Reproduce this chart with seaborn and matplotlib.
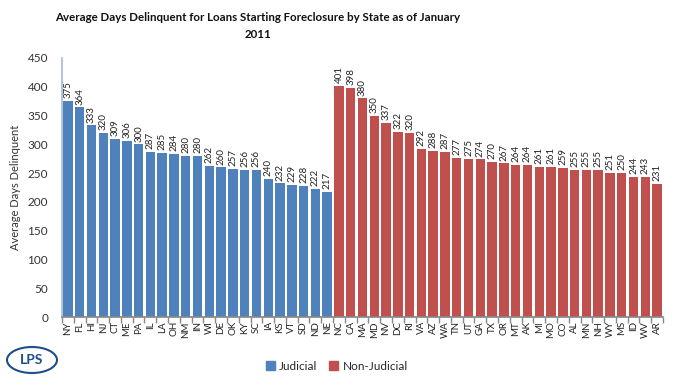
import matplotlib
matplotlib.use("Agg")
import matplotlib.pyplot as plt
import seaborn as sns
import pandas as pd
import numpy as np
from matplotlib.patches import Ellipse, Patch

judicial_states = ["NY", "FL", "HI", "NJ", "CT", "ME", "PA", "IL", "LA", "OH", "NM", "IN",
                   "WI", "DE", "OK", "KY", "SC", "IA", "KS", "VT", "SD", "ND", "NE"]
judicial_days = [375, 364, 333, 320, 309, 306, 300, 287, 285, 284, 280, 280,
                 262, 260, 257, 256, 256, 240, 232, 229, 228, 222, 217]
nonjud_states = ["NC", "CA", "MA", "MD", "NV", "DC", "RI", "VA", "AZ", "WA", "TN", "UT",
                 "GA", "TX", "OR", "MT", "AK", "MI", "MO", "CO", "AL", "MN", "NH", "WY",
                 "MS", "ID", "WV", "AR"]
nonjud_days = [401, 398, 380, 350, 337, 322, 320, 292, 288, 287, 277, 275,
               274, 270, 267, 264, 264, 261, 261, 259, 255, 255, 255, 251,
               250, 244, 243, 231]

title = "Average Days Delinquent for Loans Starting Foreclosure by State as of January\n2011"
ylabel = "Average Days Delinquent"
yticks = [0, 50, 100, 150, 200, 250, 300, 350, 400, 450]

df = pd.DataFrame({
    "State": judicial_states + nonjud_states,
    "Days": judicial_days + nonjud_days,
    "Type": ["Judicial"] * len(judicial_states) + ["Non-Judicial"] * len(nonjud_states),
})

sns.set_theme(style="white")
plt.rcParams["font.family"] = ["Lato", "DejaVu Sans"]

blue = "#4F81BD"
red = "#C0504D"
palette = {"Judicial": blue, "Non-Judicial": red}

fig = plt.figure(figsize=(6.78, 3.91), dpi=100)
ax = fig.add_axes([62 / 678, 1 - 317 / 391, (663 - 62) / 678, (317 - 58) / 391])

sns.barplot(data=df, x="State", y="Days", hue="Type", palette=palette,
            dodge=False, width=0.8, legend=False, ax=ax, saturation=1,
            order=df["State"].tolist(), edgecolor="none")

for cont in ax.containers:
    ax.bar_label(cont, rotation=90, padding=2, fontsize=7, color="#222222")

ax.set_ylim(0, 450)
ax.set_yticks(yticks)
ax.set_xlim(-0.5, len(df) - 0.5)
ax.tick_params(axis="y", labelsize=8.5, length=0, pad=10, colors="#333333")
ax.tick_params(axis="x", labelsize=7, rotation=90, length=0, pad=3, colors="#222222")
ax.set_xticks(np.arange(-0.5, len(df), 1), minor=True)
ax.tick_params(axis="x", which="minor", length=4, color="#888888", bottom=True)
ax.set_xlabel("")
ax.set_ylabel(ylabel, fontsize=8, color="#333333", labelpad=5)
for s in ["top", "right"]:
    ax.spines[s].set_visible(False)
ax.spines["left"].set_color("#A6BDDB")
ax.spines["bottom"].set_color("#888888")

fig.text(258 / 678, 1 - 26 / 391, title, ha="center", va="center", fontsize=8.3,
         fontweight="bold", color="#111111", linespacing=1.75)

handles = [Patch(color=blue, label="Judicial"), Patch(color=red, label="Non-Judicial")]
fig.legend(handles=handles, loc="center", bbox_to_anchor=(337 / 678, 1 - 366 / 391),
           ncol=2, frameon=False, fontsize=8.5, handlelength=0.7, handleheight=0.7,
           columnspacing=1.0, handletextpad=0.4)

# LPS logo
ell = Ellipse((32 / 678, 1 - 360 / 391), 50 / 678, 26 / 391, transform=fig.transFigure,
              fill=False, edgecolor="#1F4E8C", linewidth=1.5)
fig.add_artist(ell)
fig.text(32 / 678, 1 - 360 / 391, "LPS", ha="center", va="center", fontsize=10,
         fontweight="bold", color="#1F4E8C")

fig.savefig("out.png", dpi=100)
